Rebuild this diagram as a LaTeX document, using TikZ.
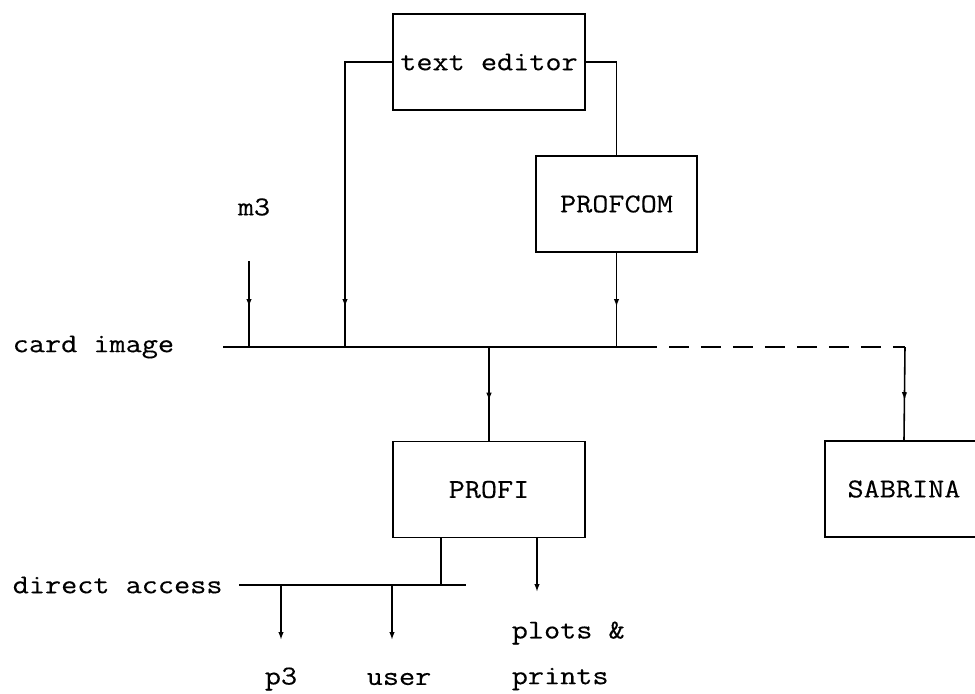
\documentclass[tikz,border=0pt]{standalone}
\usepackage{fontspec}
\newfontfamily\diagfont[FakeStretch=1.15,FakeBold=0.25]{Latin Modern Mono}
\usetikzlibrary{arrows.meta,decorations.markings}

\begin{document}
\begin{tikzpicture}[x=0.02cm,y=-0.02cm,line width=0.9pt,
    >={Latex[length=1.6mm,width=1.1mm]},
    box/.style={draw=black,line width=0.9pt,minimum height=1.92cm,
        font=\diagfont\fontsize{15.5}{18}\selectfont},
    lbl/.style={inner sep=0pt,font=\diagfont\fontsize{15.5}{18}\selectfont},
    midarrow/.style={postaction={decorate},
        decoration={markings,mark=at position -0.8cm with {\arrow{>}}}}]
    \useasboundingbox (0,0) rectangle (975,694);
    % boxes
    \node[box,minimum width=3.84cm] (texted) at (489,62) {text editor};
    \node[box,minimum width=3.22cm] (profcom) at (616.5,204) {PROFCOM};
    \node[box,minimum width=3.84cm] (profi) at (489,489.5) {PROFI};
    \node[box,minimum width=3.16cm] (sabrina) at (904,489) {SABRINA};
    % labels
    \node[lbl] (m3) at (254,207) {m3};
    \node[lbl,anchor=west] (card) at (12,347) {card image};
    \node[lbl,anchor=west] (direct) at (12,585) {direct access};
    \node[lbl] (p3) at (281,679) {p3};
    \node[lbl] (user) at (399,679) {user};
    \node[lbl,anchor=west] (plots) at (511,633) {plots \&};
    \node[lbl,anchor=west] (prints) at (511,679) {prints};
    % bus lines
    \coordinate (cardL) at (223,347);
    \coordinate (cardE) at (657,347);
    \coordinate (cardR) at (905,347);
    \coordinate (tapL) at (345,347);
    \coordinate (m3top) at (249,261);
    \coordinate (dirL) at (239,585);
    \coordinate (dirR) at (466,585);
    \coordinate (dirtap) at (441,585);
    \coordinate (p3end) at (281,640);
    \coordinate (userend) at (392,640);
    \coordinate (plotsend) at (537,592);
    \draw (cardL) -- (cardE);
    \draw [dash pattern=on 0.4cm off 0.24cm,dash phase=0.4cm] (cardE) -- (cardR);
    \draw (dirL) -- (dirR);
    % connectors
    \draw [midarrow] (m3top) -- (m3top |- cardL);
    \draw [midarrow] (texted.west) -| (tapL);
    \draw (texted.east) -| (profcom.north);
    \draw [midarrow] (profcom.south) -- (profcom.south |- cardL);
    \draw [midarrow] (profi.north |- cardL) -- (profi.north);
    \draw [midarrow] (cardR) -- (sabrina.north);
    \draw (dirtap |- profi.south) -- (dirtap);
    \draw [->] (plotsend |- profi.south) -- (plotsend);
    \draw [->] (p3end |- dirL) -- (p3end);
    \draw [->] (userend |- dirL) -- (userend);
\end{tikzpicture}
\end{document}
